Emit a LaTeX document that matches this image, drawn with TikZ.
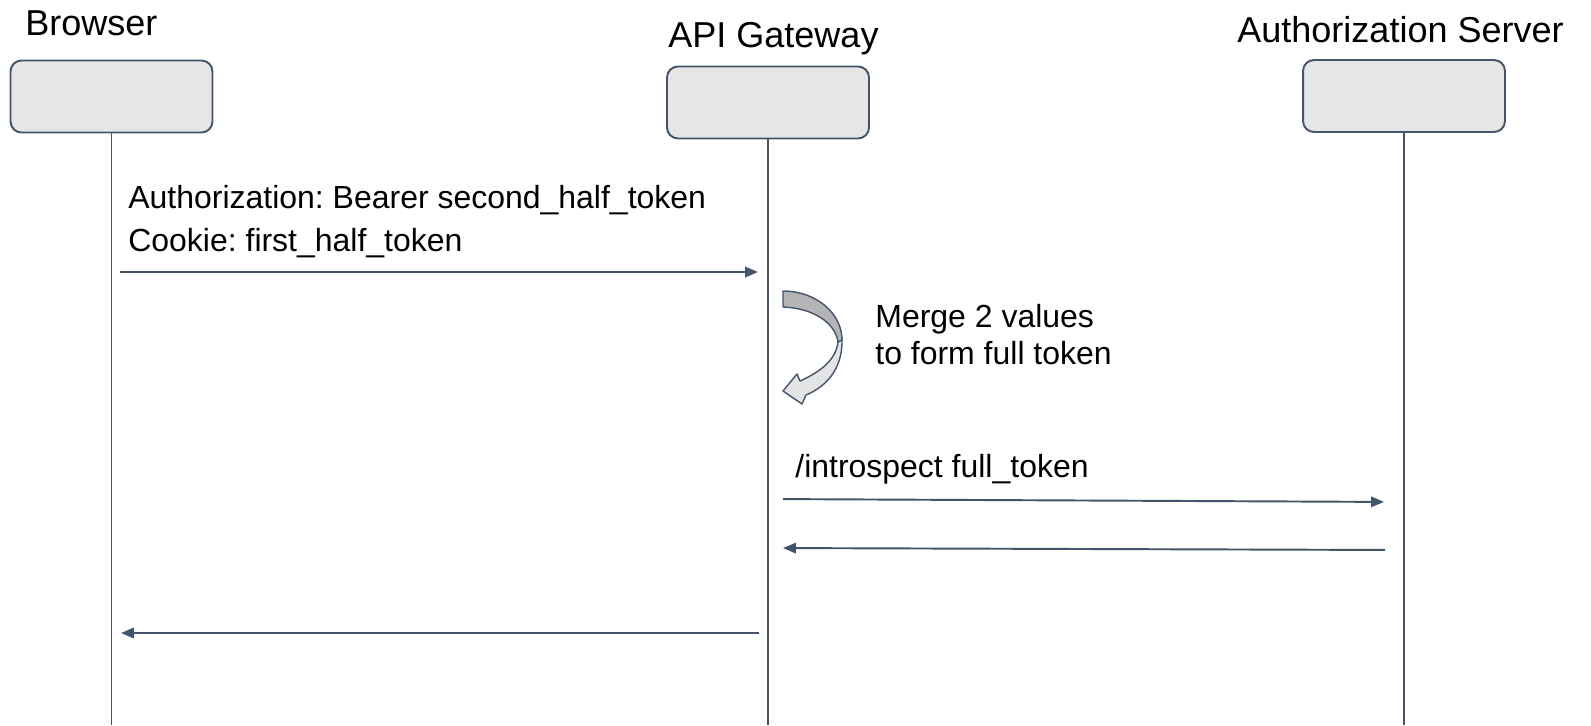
\documentclass[tikz,border=0pt]{standalone}
\usepackage{fontspec}
\setmainfont{Liberation Sans}
\usetikzlibrary{arrows.meta,calc,positioning}
\frenchspacing
\definecolor{slateline}{RGB}{68,84,106}
\definecolor{boxgray}{RGB}{230,230,230}
\definecolor{curldark}{RGB}{180,180,180}
\definecolor{curllight}{RGB}{228,228,228}
\tikzset{
  actorbox/.style={draw=slateline, fill=boxgray, line width=1.1pt, rounded corners=0.22cm, minimum width=4.04cm, minimum height=1.44cm},
  actorlabel/.style={anchor=base west, inner sep=0pt, font=\fontsize{20.5}{24}\selectfont},
  msglabel/.style={anchor=base west, inner sep=0pt, align=left, font=\fontsize{18.2}{24.2}\selectfont},
  notelabel/.style={msglabel, font=\fontsize{18.2}{21}\selectfont},
  lifeline/.style={draw=slateline, line width=1.1pt},
  msgarrow/.style={draw=slateline, line width=1.1pt, -{Triangle[length=0.26cm, width=0.21cm]}},
  curlpart/.style={draw=slateline, line width=0.8pt, line join=round}
}

\begin{document}
\begin{tikzpicture}[x=0.02cm, y=-0.02cm]
  \useasboundingbox (0,0) rectangle (1591,725);

  % participants
  \node[actorbox] (browser) at (111.5,96.5) {};
  \node[actorbox] (gateway) at (768,102.5) {};
  \node[actorbox] (authsrv) at (1404,96) {};
  \node[actorlabel] (browserlbl) at (25,35) {Browser};
  \node[actorlabel] (gatewaylbl) at (668,47) {API Gateway};
  \node[actorlabel] (authsrvlbl) at (1237,42) {Authorization Server};

  % lifelines
  \coordinate (bottom) at (0,725);
  \draw[lifeline] (browser.south) -- (browser.south |- bottom);
  \draw[lifeline] (gateway.south) -- (gateway.south |- bottom);
  \draw[lifeline] (authsrv.south) -- (authsrv.south |- bottom);

  % browser -> gateway (base = last line)
  \coordinate (m1) at (0,272);
  \draw[msgarrow, shorten <=0.17cm, shorten >=0.2cm] (browser.south |- m1) -- (gateway.south |- m1);
  \node[msglabel] (m1lbl) at (128,251) {Authorization: Bearer second\_half\_token\\Cookie: first\_half\_token};

  % merge step
  \filldraw[curlpart, fill=curllight] (842,338) .. controls (843,365) and (830,385) .. (806,395)
    -- (802,404) -- (783,391) -- (797,374) -- (800,381)
    .. controls (820,372) and (836,360) .. (838,342) -- cycle;
  \filldraw[curlpart, fill=curldark] (783,291) arc[start angle=270, end angle=360, x radius=59, y radius=49]
    -- (838,342) .. controls (835,322) and (812,308) .. (783,307) -- cycle;
  \node[notelabel] (mergelbl) at (875,364) {Merge 2 values\\to form full token};

  % gateway -> authorization server
  \coordinate (m2a) at (0,499);
  \coordinate (m2b) at (0,502);
  \draw[msgarrow, shorten <=0.3cm, shorten >=0.4cm] (gateway.south |- m2a) -- (authsrv.south |- m2b);
  \node[msglabel] (m2lbl) at (795,477) {/introspect full\_token};

  % authorization server -> gateway
  \coordinate (m3a) at (0,548);
  \coordinate (m3b) at (0,550);
  \draw[msgarrow, shorten <=0.38cm, shorten >=0.3cm] (authsrv.south |- m3b) -- (gateway.south |- m3a);

  % gateway -> browser
  \coordinate (m4) at (0,633);
  \draw[msgarrow, shorten <=0.18cm, shorten >=0.19cm] (gateway.south |- m4) -- (browser.south |- m4);
\end{tikzpicture}
\end{document}
